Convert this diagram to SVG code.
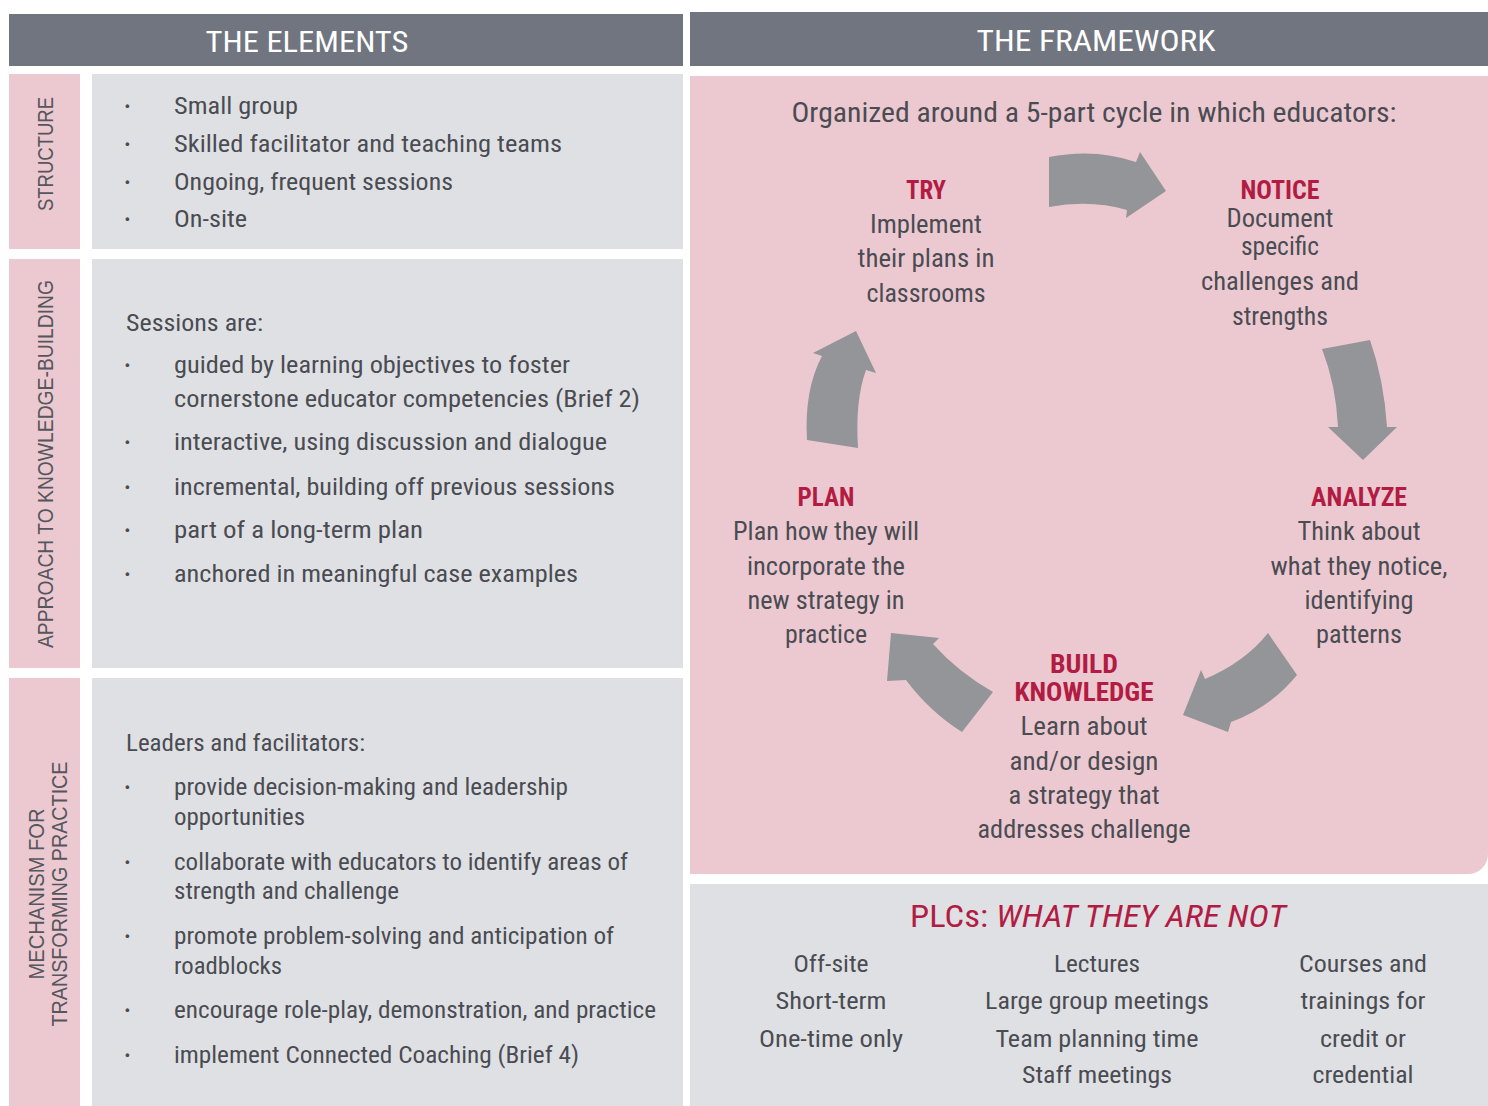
<svg xmlns="http://www.w3.org/2000/svg" width="1488" height="1106" viewBox="0 0 1488 1106">
<style>
.hdr{fill:#707580}
.pink{fill:#ecc9d1}
.grey{fill:#dfe0e4}
.t{font-family:'Liberation Sans Narrow','Roboto Condensed','Liberation Sans',sans-serif;fill:#4a4c52}
.b{font-size:23px}
.bu{font-weight:bold;font-size:24px}
.h{font-size:29px;fill:#ffffff;text-anchor:middle}
.s{font-size:25px;text-anchor:middle}
.l{font-size:25px;font-weight:bold;fill:#b21c43;text-anchor:middle}
.side{font-family:'Liberation Sans Narrow','Liberation Sans',Arial,sans-serif;font-size:22px;fill:#55575d;text-anchor:middle}
.p{font-size:24px;text-anchor:middle}
.arrow{fill:#939598}
</style>
<rect width="1488" height="1106" fill="#ffffff"/>

<g id="header-elements">
<rect class="hdr" x="9" y="14" width="674" height="52"/>
<text class="t h" x="307" y="52" textLength="203" lengthAdjust="spacingAndGlyphs">THE ELEMENTS</text>
</g>
<g id="header-framework">
<rect class="hdr" x="690" y="12" width="798" height="54"/>
<text class="t h" x="1096" y="51" textLength="239" lengthAdjust="spacingAndGlyphs">THE FRAMEWORK</text>
</g>

<g id="structure">
<rect class="pink" x="9" y="74" width="71" height="175"/>
<text class="side" transform="translate(53,154) rotate(-90)" textLength="114" lengthAdjust="spacingAndGlyphs">STRUCTURE</text>
<rect class="grey" x="92" y="74" width="591" height="175"/>
<g class="t b">
<text class="bu" x="124" y="114">·</text><text x="174" y="114" textLength="124" lengthAdjust="spacingAndGlyphs">Small group</text>
<text class="bu" x="124" y="152">·</text><text x="174" y="152" textLength="388" lengthAdjust="spacingAndGlyphs">Skilled facilitator and teaching teams</text>
<text class="bu" x="124" y="190">·</text><text x="174" y="190" textLength="279" lengthAdjust="spacingAndGlyphs">Ongoing, frequent sessions</text>
<text class="bu" x="124" y="227">·</text><text x="174" y="227" textLength="73" lengthAdjust="spacingAndGlyphs">On-site</text>
</g>
</g>

<g id="approach">
<rect class="pink" x="9" y="259" width="71" height="409"/>
<text class="side" transform="translate(53,464) rotate(-90)" textLength="368" lengthAdjust="spacingAndGlyphs">APPROACH TO KNOWLEDGE-BUILDING</text>
<rect class="grey" x="92" y="259" width="591" height="409"/>
<g class="t b">
<text x="126" y="331" textLength="137" lengthAdjust="spacingAndGlyphs">Sessions are:</text>
<text class="bu" x="124" y="373">·</text><text x="174" y="373" textLength="396" lengthAdjust="spacingAndGlyphs">guided by learning objectives to foster</text>
<text x="174" y="407" textLength="466" lengthAdjust="spacingAndGlyphs">cornerstone educator competencies (Brief 2)</text>
<text class="bu" x="124" y="450">·</text><text x="174" y="450" textLength="433" lengthAdjust="spacingAndGlyphs">interactive, using discussion and dialogue</text>
<text class="bu" x="124" y="495">·</text><text x="174" y="495" textLength="441" lengthAdjust="spacingAndGlyphs">incremental, building off previous sessions</text>
<text class="bu" x="124" y="538">·</text><text x="174" y="538" textLength="249" lengthAdjust="spacingAndGlyphs">part of a long-term plan</text>
<text class="bu" x="124" y="582">·</text><text x="174" y="582" textLength="404" lengthAdjust="spacingAndGlyphs">anchored in meaningful case examples</text>
</g>
</g>

<g id="mechanism">
<rect class="pink" x="9" y="678" width="71" height="428"/>
<text class="side" transform="translate(44,894) rotate(-90)" textLength="171" lengthAdjust="spacingAndGlyphs">MECHANISM FOR</text>
<text class="side" transform="translate(67,894) rotate(-90)" textLength="265" lengthAdjust="spacingAndGlyphs">TRANSFORMING PRACTICE</text>
<rect class="grey" x="92" y="678" width="591" height="428"/>
<g class="t b">
<text x="126" y="751" textLength="239" lengthAdjust="spacingAndGlyphs">Leaders and facilitators:</text>
<text class="bu" x="124" y="795">·</text><text x="174" y="795" textLength="394" lengthAdjust="spacingAndGlyphs">provide decision-making and leadership</text>
<text x="174" y="825" textLength="131" lengthAdjust="spacingAndGlyphs">opportunities</text>
<text class="bu" x="124" y="870">·</text><text x="174" y="870" textLength="454" lengthAdjust="spacingAndGlyphs">collaborate with educators to identify areas of</text>
<text x="174" y="899" textLength="225" lengthAdjust="spacingAndGlyphs">strength and challenge</text>
<text class="bu" x="124" y="944">·</text><text x="174" y="944" textLength="440" lengthAdjust="spacingAndGlyphs">promote problem-solving and anticipation of</text>
<text x="174" y="974" textLength="108" lengthAdjust="spacingAndGlyphs">roadblocks</text>
<text class="bu" x="124" y="1018">·</text><text x="174" y="1018" textLength="482" lengthAdjust="spacingAndGlyphs">encourage role-play, demonstration, and practice</text>
<text class="bu" x="124" y="1063">·</text><text x="174" y="1063" textLength="405" lengthAdjust="spacingAndGlyphs">implement Connected Coaching (Brief 4)</text>
</g>
</g>

<g id="framework-panel">
<path class="pink" d="M690,76 H1488 V854 A20,20 0 0 1 1468,874 H690 Z"/>
<text class="t" x="1094" y="122" font-size="28" text-anchor="middle" textLength="605" lengthAdjust="spacingAndGlyphs">Organized around a 5-part cycle in which educators:</text>
</g>

<g id="step-try" class="t">
<text class="l" x="926" y="199" textLength="40" lengthAdjust="spacingAndGlyphs">TRY</text>
<text class="s" x="926" y="233" textLength="112" lengthAdjust="spacingAndGlyphs">Implement</text>
<text class="s" x="926" y="267" textLength="137" lengthAdjust="spacingAndGlyphs">their plans in</text>
<text class="s" x="926" y="302" textLength="119" lengthAdjust="spacingAndGlyphs">classrooms</text>
</g>
<g id="step-notice" class="t">
<text class="l" x="1280" y="199" textLength="79" lengthAdjust="spacingAndGlyphs">NOTICE</text>
<text class="s" x="1280" y="227" textLength="107" lengthAdjust="spacingAndGlyphs">Document</text>
<text class="s" x="1280" y="255" textLength="78" lengthAdjust="spacingAndGlyphs">specific</text>
<text class="s" x="1280" y="290" textLength="158" lengthAdjust="spacingAndGlyphs">challenges and</text>
<text class="s" x="1280" y="325" textLength="96" lengthAdjust="spacingAndGlyphs">strengths</text>
</g>
<g id="step-analyze" class="t">
<text class="l" x="1359" y="506" textLength="96" lengthAdjust="spacingAndGlyphs">ANALYZE</text>
<text class="s" x="1359" y="540" textLength="123" lengthAdjust="spacingAndGlyphs">Think about</text>
<text class="s" x="1359" y="575" textLength="177" lengthAdjust="spacingAndGlyphs">what they notice,</text>
<text class="s" x="1359" y="609" textLength="109" lengthAdjust="spacingAndGlyphs">identifying</text>
<text class="s" x="1359" y="643" textLength="86" lengthAdjust="spacingAndGlyphs">patterns</text>
</g>
<g id="step-build" class="t">
<text class="l" x="1084" y="673" textLength="68" lengthAdjust="spacingAndGlyphs">BUILD</text>
<text class="l" x="1084" y="701" textLength="139" lengthAdjust="spacingAndGlyphs">KNOWLEDGE</text>
<text class="s" x="1084" y="735" textLength="127" lengthAdjust="spacingAndGlyphs">Learn about</text>
<text class="s" x="1084" y="770" textLength="149" lengthAdjust="spacingAndGlyphs">and/or design</text>
<text class="s" x="1084" y="804" textLength="151" lengthAdjust="spacingAndGlyphs">a strategy that</text>
<text class="s" x="1084" y="838" textLength="213" lengthAdjust="spacingAndGlyphs">addresses challenge</text>
</g>
<g id="step-plan" class="t">
<text class="l" x="826" y="506" textLength="57" lengthAdjust="spacingAndGlyphs">PLAN</text>
<text class="s" x="826" y="540" textLength="186" lengthAdjust="spacingAndGlyphs">Plan how they will</text>
<text class="s" x="826" y="575" textLength="158" lengthAdjust="spacingAndGlyphs">incorporate the</text>
<text class="s" x="826" y="609" textLength="157" lengthAdjust="spacingAndGlyphs">new strategy in</text>
<text class="s" x="826" y="643" textLength="82" lengthAdjust="spacingAndGlyphs">practice</text>
</g>

<g id="connectors">
<path class="arrow" d="M1049,157 Q1095,148 1136,162 L1140,152 L1166,191 L1126,218 L1127,210 Q1090,199 1049,207 Z"/>
<path class="arrow" d="M1322,349 L1370,340 Q1384,380 1387,427 L1397,427 L1363,460 L1328,427 L1338,427 Q1336,385 1322,349 Z"/>
<path class="arrow" d="M1268,633 L1297,675 Q1270,708 1231,722 L1228,732 L1183,715 L1201,670 L1205,679 Q1245,662 1268,633 Z"/>
<path class="arrow" d="M993,692 Q958,672 933,644 L939,638 L891,633 L887,681 L906,680 Q930,712 962,732 Z"/>
<path class="arrow" d="M807,440 Q804,390 822,356 L813,353 L856,331 L876,373 L866,370 Q855,400 858,448 Z"/>
</g>

<g id="plcs-not">
<rect class="grey" x="690" y="884" width="798" height="222"/>
<text class="t" x="910" y="927" font-size="32" style="fill:#b21c43" textLength="78" lengthAdjust="spacingAndGlyphs">PLCs:</text>
<text class="t" x="996" y="927" font-size="32" font-style="italic" style="fill:#b21c43" textLength="290" lengthAdjust="spacingAndGlyphs">WHAT THEY ARE NOT</text>
<g class="t p">
<text x="831" y="972" textLength="75" lengthAdjust="spacingAndGlyphs">Off-site</text>
<text x="831" y="1009" textLength="111" lengthAdjust="spacingAndGlyphs">Short-term</text>
<text x="831" y="1047" textLength="144" lengthAdjust="spacingAndGlyphs">One-time only</text>
<text x="1097" y="972" textLength="86" lengthAdjust="spacingAndGlyphs">Lectures</text>
<text x="1097" y="1009" textLength="224" lengthAdjust="spacingAndGlyphs">Large group meetings</text>
<text x="1097" y="1047" textLength="203" lengthAdjust="spacingAndGlyphs">Team planning time</text>
<text x="1097" y="1083" textLength="150" lengthAdjust="spacingAndGlyphs">Staff meetings</text>
<text x="1363" y="972" textLength="128" lengthAdjust="spacingAndGlyphs">Courses and</text>
<text x="1363" y="1009" textLength="125" lengthAdjust="spacingAndGlyphs">trainings for</text>
<text x="1363" y="1047" textLength="86" lengthAdjust="spacingAndGlyphs">credit or</text>
<text x="1363" y="1083" textLength="101" lengthAdjust="spacingAndGlyphs">credential</text>
</g>
</g>
</svg>
